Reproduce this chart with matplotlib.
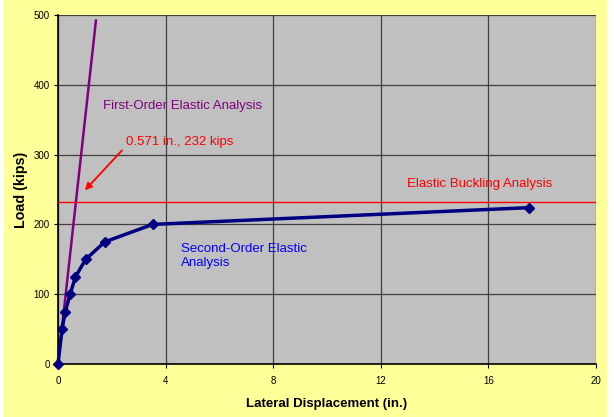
import matplotlib.pyplot as plt
from matplotlib.patches import Rectangle

plt.rcParams['font.family'] = ['Liberation Sans', 'DejaVu Sans']

# second-order elastic analysis
disp = [0, 0.15, 0.27, 0.45, 0.65, 1.03, 1.74, 3.52, 17.5]
load = [0, 50, 75, 100, 125, 150, 175, 200, 224]

# first-order elastic analysis (straight line)
first_x = [0, 1.41]
first_y = [0, 492]

buckling_load = 232
x_ticks = [0, 4, 8, 12, 16, 20]
y_ticks = [0, 100, 200, 300, 400, 500]

fig = plt.figure(figsize=(6.14, 4.17), dpi=100, facecolor='white')
fig.patches.append(Rectangle((4 / 614, 0), 603 / 614, 1, transform=fig.transFigure,
                             facecolor='#FFFF99', edgecolor='none', zorder=-10))
ax = fig.add_axes([58 / 614, 53 / 417, 538 / 614, 349 / 417])
ax.set_facecolor('#C0C0C0')

ax.plot(first_x, first_y, color='#800080', linewidth=1.8, zorder=3)
ax.axhline(buckling_load, color='#FF0000', linewidth=1, zorder=3)
ax.plot(disp, load, color='#000080', linewidth=2.5, marker='D', markersize=5,
        zorder=4, clip_on=False)

ax.text(1.66, 369, 'First-Order Elastic Analysis', color='#800080', fontsize=9.5, va='center')
ax.text(2.52, 318, '0.571 in., 232 kips', color='#FF0000', fontsize=9.5, va='center')
ax.annotate('', xy=(0.93, 246), xytext=(2.45, 309),
            arrowprops=dict(arrowstyle='-|>', color='#FF0000', lw=1.3, mutation_scale=10))
ax.text(12.96, 258, 'Elastic Buckling Analysis', color='#FF0000', fontsize=9.5, va='center')
ax.text(4.57, 155, 'Second-Order Elastic\nAnalysis', color='#0000FF', fontsize=9.5,
        va='center', linespacing=1.25)

ax.set_xlim(0, 20)
ax.set_ylim(0, 500)
ax.set_xticks(x_ticks)
ax.set_yticks(y_ticks)
ax.grid(True, color='#404040', linewidth=0.9)
ax.set_axisbelow(True)
for s in ['top', 'right']:
    ax.spines[s].set_visible(False)
for s in ['left', 'bottom']:
    ax.spines[s].set_color('black')
    ax.spines[s].set_linewidth(1.2)
ax.tick_params(labelsize=7, length=3, width=0.8)
ax.tick_params(axis='y', pad=3)
ax.tick_params(axis='x', pad=6)

ax.set_xlabel('Lateral Displacement (in.)', fontsize=9.5, fontweight='bold', labelpad=8)
ax.set_ylabel('Load (kips)', fontsize=10.3, fontweight='bold', labelpad=4)

fig.savefig('out.png', dpi=100, facecolor=fig.get_facecolor())
